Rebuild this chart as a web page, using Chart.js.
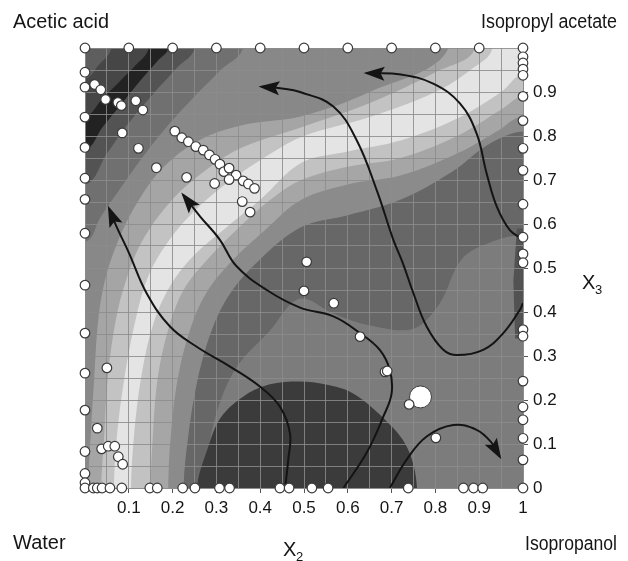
<!DOCTYPE html>
<html><head><meta charset="utf-8"><title>Contour</title>
<script src="https://cdn.jsdelivr.net/npm/chart.js@4.4.1/dist/chart.umd.min.js"></script>
<style>html,body{margin:0;padding:0;background:#fff;overflow:hidden}canvas{display:block}</style>
</head><body>
<canvas id="c" width="628" height="561"></canvas>
<script>
// ---------- text ----------
const xTickLabels = ['0.1','0.2','0.3','0.4','0.5','0.6','0.7','0.8','0.9','1'];
const yTickLabels = ['0','0.1','0.2','0.3','0.4','0.5','0.6','0.7','0.8','0.9'];
const cornerNames = ['Acetic acid','Isopropyl acetate','Water','Isopropanol'];
const xAxisName = ['X','2'];
const yAxisName = ['X','3'];

// ---------- experimental points ----------
const topRowX = [0,0.1,0.2,0.3,0.4,0.5,0.6,0.7,0.8,0.9,1];
const rightColY = [0.98,0.966,0.952,0.938,0.89,0.835,0.772,0.722,0.645,0.57,0.532,0.512,0.36,0.345,0.243,0.184,0.155,0.113,0.064];
const leftColY = [0.945,0.911,0.843,0.774,0.704,0.656,0.579,0.461,0.352,0.261,0.177,0.083,0.033,0.012];
const bottomRowX = [0,0.019,0.028,0.039,0.057,0.084,0.148,0.165,0.223,0.251,0.307,0.33,0.445,0.466,0.518,0.555,0.738,0.864,0.887,0.908,1];
const innerX = [0.022,0.036,0.047,0.075,0.083,0.116,0.132,0.085,0.122,0.163,0.232,0.296,0.359,0.377,
  0.205,0.221,0.236,0.253,0.27,0.284,0.297,0.308,0.317,0.329,0.345,0.329,0.361,0.373,0.387,
  0.05,0.028,0.038,0.053,0.068,0.076,0.086,
  0.506,0.5,0.568,0.628,0.685,0.69,0.74,0.801];
const innerY = [0.917,0.905,0.883,0.876,0.869,0.88,0.859,0.807,0.772,0.728,0.706,0.692,0.651,0.627,
  0.811,0.796,0.787,0.776,0.768,0.757,0.747,0.736,0.719,0.727,0.711,0.701,0.698,0.691,0.681,
  0.273,0.136,0.089,0.095,0.095,0.071,0.054,
  0.514,0.448,0.42,0.344,0.264,0.266,0.19,0.114];
const bigX = [0.766];
const bigY = [0.207];

// ---------- trajectories ----------
const path1 = [[0.055,0.635],[0.072,0.594],[0.1,0.535],[0.141,0.442],[0.194,0.367],[0.255,0.321],[0.331,0.276],[0.4,0.23],[0.445,0.185],[0.468,0.124],[0.464,0.064],[0.457,0]];
const path2 = [[0.224,0.666],[0.263,0.617],[0.308,0.564],[0.345,0.505],[0.415,0.45],[0.491,0.41],[0.567,0.39],[0.628,0.352],[0.673,0.314],[0.696,0.268],[0.7,0.215],[0.681,0.162],[0.643,0.08],[0.59,0]];
const path3 = [[0.403,0.912],[0.45,0.908],[0.491,0.9],[0.567,0.867],[0.62,0.791],[0.666,0.677],[0.704,0.564],[0.726,0.51],[0.75,0.442],[0.78,0.367],[0.818,0.314],[0.849,0.302],[0.909,0.314],[0.955,0.352],[0.993,0.405],[1,0.42]];
const path4 = [[0.643,0.943],[0.721,0.94],[0.795,0.919],[0.856,0.874],[0.894,0.806],[0.917,0.715],[0.94,0.64],[0.97,0.586],[1,0.565]];
const path5 = [[0.696,0],[0.734,0.064],[0.78,0.117],[0.841,0.143],[0.894,0.132],[0.929,0.102],[0.947,0.071]];

// ---------- contour band boundaries ----------
const edgeBA = [[0.262,0],[0.283,0.1],[0.31,0.2],[0.35,0.28],[0.42,0.355],[0.49,0.43],[0.57,0.395],[0.648,0.37],[0.75,0.362],[0.81,0.42],[0.86,0.52],[0.93,0.56],[1,0.575]];
const edgeCB = [[0.225,0],[0.236,0.12],[0.258,0.25],[0.29,0.36],[0.33,0.44],[0.4,0.52],[0.494,0.593],[0.6,0.62],[0.72,0.655],[0.84,0.72],[0.92,0.78],[1,0.81]];
const edgeDC = [[0.19,0],[0.196,0.12],[0.212,0.25],[0.24,0.36],[0.275,0.44],[0.33,0.51],[0.41,0.585],[0.494,0.655],[0.6,0.69],[0.72,0.71],[0.85,0.76],[0.94,0.81],[1,0.845]];
const edgeED = [[0.15,0],[0.155,0.12],[0.166,0.25],[0.19,0.36],[0.225,0.45],[0.28,0.52],[0.36,0.6],[0.43,0.66],[0.494,0.7],[0.6,0.73],[0.72,0.75],[0.85,0.8],[0.95,0.86],[1,0.89]];
const edgeFE = [[0.105,0],[0.112,0.12],[0.128,0.25],[0.155,0.37],[0.195,0.46],[0.25,0.53],[0.32,0.59],[0.4,0.655],[0.494,0.739],[0.6,0.765],[0.72,0.79],[0.85,0.84],[0.95,0.9],[1,0.94]];
const edgeEF = [[0.066,0],[0.073,0.12],[0.09,0.25],[0.115,0.38],[0.144,0.48],[0.19,0.56],[0.25,0.63],[0.32,0.69],[0.4,0.745],[0.494,0.798],[0.65,0.843],[0.8,0.9],[0.88,0.95],[0.93,1]];
const edgeDE = [[0.037,0],[0.044,0.12],[0.052,0.25],[0.07,0.38],[0.093,0.47],[0.13,0.56],[0.19,0.645],[0.26,0.71],[0.35,0.77],[0.494,0.82],[0.65,0.875],[0.8,0.945],[0.89,1]];
const edgeCD = [[0.007,0],[0.013,0.12],[0.021,0.25],[0.03,0.38],[0.045,0.47],[0.075,0.56],[0.12,0.65],[0.18,0.73],[0.26,0.79],[0.36,0.825],[0.494,0.845],[0.65,0.9],[0.83,1]];
const edgeBC = [[0,0.56],[0.035,0.615],[0.08,0.68],[0.13,0.75],[0.19,0.825],[0.25,0.89],[0.31,0.95],[0.36,1]];
const edgeGB = [[0,0.69],[0.05,0.76],[0.1,0.83],[0.155,0.895],[0.21,0.955],[0.25,1]];
const edgeK3 = [[0,0.77],[0.04,0.82],[0.085,0.875],[0.13,0.93],[0.165,0.97],[0.19,1]];
const edgeK2 = [[0,0.845],[0.04,0.885],[0.08,0.925],[0.115,0.96],[0.145,1]];
const edgeK1 = [[0,0.93],[0.03,0.96],[0.06,1]];
const domeEdge = [[0.256,0],[0.28,0.09],[0.31,0.16],[0.36,0.207],[0.42,0.235],[0.49,0.242],[0.55,0.235],[0.61,0.216],[0.68,0.16],[0.735,0.093],[0.758,0]];
const stripEdge = [[0.982,0.34],[1,0.34],[1,0.59],[0.986,0.59],[0.978,0.47]];

// ---------- helpers ----------
const OUT = 0.3;
function pushOut(p, side){
  const [x,y] = p;
  if (side==='bottom') return [x,-OUT];
  if (side==='left') return [-OUT,y];
  if (side==='top') return [x,1+OUT];
  return [1+OUT,y];
}
// region on the upper-left side of an edge, closed outside the plot
function upperLeft(edge, s, e){
  const pts = [pushOut(edge[0],s), ...edge, pushOut(edge[edge.length-1],e)];
  const order = ['right','top','left','bottom'];
  const corner = {right:[1+OUT,1+OUT], top:[-OUT,1+OUT], left:[-OUT,-OUT]};
  let i = order.indexOf(e);
  while (order[i] !== s) { pts.push(corner[order[i]]); i++; }
  return pts;
}
const toXY = arr => arr.map(([x,y]) => ({x,y}));

const layers = [
  {pts:[[-OUT,-OUT],[1+OUT,-OUT],[1+OUT,1+OUT],[-OUT,1+OUT]], color:'#7c7c7c', t:0},
  {pts:upperLeft(edgeBA,'bottom','right'), color:'#676767'},
  {pts:upperLeft(edgeCB,'bottom','right'), color:'#8b8b8b'},
  {pts:upperLeft(edgeDC,'bottom','right'), color:'#a6a6a6'},
  {pts:upperLeft(edgeED,'bottom','right'), color:'#c2c2c2'},
  {pts:upperLeft(edgeFE,'bottom','right'), color:'#e4e4e4'},
  {pts:upperLeft(edgeEF,'bottom','top'), color:'#c3c3c3'},
  {pts:upperLeft(edgeDE,'bottom','top'), color:'#a5a5a5'},
  {pts:upperLeft(edgeCD,'bottom','top'), color:'#888888'},
  {pts:upperLeft(edgeBC,'left','top'), color:'#707070'},
  {pts:upperLeft(edgeGB,'left','top'), color:'#535353'},
  {pts:upperLeft(edgeK3,'left','top'), color:'#222222'},
  {pts:upperLeft(edgeK2,'left','top'), color:'#464646'},
  {pts:upperLeft(edgeK1,'left','top'), color:'#5e5e5e'},
  {pts:[pushOut(domeEdge[0],'bottom'), ...domeEdge, pushOut(domeEdge[domeEdge.length-1],'bottom')], color:'#3b3b3b'},
  {pts:stripEdge, color:'#525252', t:0}
];

const datasets = [];
layers.forEach((L, i) => {
  datasets.push({
    data: toXY(L.pts), showLine:true, fill:'shape', backgroundColor:L.color,
    borderColor:'rgba(0,0,0,0)', borderWidth:0, pointRadius:0, pointHoverRadius:0, pointHitRadius:0,
    tension: L.t===undefined ? 0.35 : L.t, order: 300 - i, clip: 0
  });
});
[[path1,'start'],[path2,'start'],[path3,'start'],[path4,'start'],[path5,'end']].forEach(([p,a]) => {
  datasets.push({
    data: toXY(p), showLine:true, fill:false, borderColor:'#141414', borderWidth:2,
    pointRadius:0, pointHoverRadius:0, tension:0.4, order:10, arrowAt:a
  });
});
const smallPts = [
  ...topRowX.map(x => ({x, y:1})),
  ...rightColY.map(y => ({x:1, y})),
  ...leftColY.map(y => ({x:0, y})),
  ...bottomRowX.map(x => ({x, y:0})),
  ...innerX.map((x,i) => ({x, y:innerY[i]}))
];
datasets.push({data:smallPts, pointRadius:4.8, pointBackgroundColor:'#ffffff', pointBorderColor:'#3a3a3a', pointBorderWidth:1.2, order:0, clip:false});
datasets.push({data:bigX.map((x,i)=>({x, y:bigY[i]})), pointRadius:11, pointBackgroundColor:'#ffffff', pointBorderColor:'#3a3a3a', pointBorderWidth:1, order:0, clip:false});

const FONT = "'Liberation Sans',Arial,sans-serif";

const arrowPlugin = {
  id:'arrows',
  afterDatasetsDraw(chart){
    const ctx = chart.ctx;
    chart.data.datasets.forEach((ds, i) => {
      if (!ds.arrowAt) return;
      const pts = chart.getDatasetMeta(i).data;
      const n = pts.length;
      const tip = ds.arrowAt==='start' ? pts[0] : pts[n-1];
      const prev = ds.arrowAt==='start' ? pts[1] : pts[n-2];
      const a = Math.atan2(tip.y - prev.y, tip.x - prev.x);
      const L = 18, W = 7;
      ctx.save();
      ctx.translate(tip.x, tip.y); ctx.rotate(a);
      ctx.beginPath(); ctx.moveTo(3,0); ctx.lineTo(-L,-W); ctx.lineTo(-L+4,0); ctx.lineTo(-L,W); ctx.closePath();
      ctx.fillStyle = '#141414'; ctx.fill();
      ctx.restore();
    });
  }
};
function fitText(ctx, txt, x, y, w, align){
  const m = ctx.measureText(txt).width;
  const k = Math.min(1, w / m);
  ctx.save();
  ctx.translate(x, y); ctx.scale(k, 1);
  ctx.textAlign = align; ctx.fillText(txt, 0, 0);
  ctx.restore();
}
const textPlugin = {
  id:'names',
  afterDraw(chart){
    const ctx = chart.ctx;
    ctx.save();
    ctx.fillStyle = '#151515';
    ctx.font = '20px ' + FONT;
    ctx.textBaseline = 'alphabetic';
    fitText(ctx, cornerNames[0], 13, 28, 96, 'left');
    fitText(ctx, cornerNames[1], 617, 28, 136, 'right');
    fitText(ctx, cornerNames[2], 13, 549, 56, 'left');
    fitText(ctx, cornerNames[3], 617, 550, 92, 'right');
    ctx.textAlign = 'left';
    ctx.font = '20px ' + FONT;
    ctx.fillText(xAxisName[0], 283, 556);
    ctx.fillText(yAxisName[0], 582, 289);
    ctx.font = '13px ' + FONT;
    ctx.fillText(xAxisName[1], 296, 561);
    ctx.fillText(yAxisName[1], 595, 294);
    ctx.restore();
  }
};

const gridColor = 'rgba(140,140,140,0.85)';
const tickMark = c => (Math.round(c.tick.value*20) % 2) ? 'rgba(0,0,0,0)' : '#555';

new Chart(document.getElementById('c'), {
  type:'scatter',
  data:{datasets},
  options:{
    responsive:false, animation:false, events:[],
    layout:{padding:{left:85, top:48, right:0, bottom:0}},
    elements:{line:{capBezierPoints:false}},
    plugins:{legend:{display:false}, tooltip:{enabled:false}, filler:{propagate:false, drawTime:'beforeDraw'}},
    scales:{
      x:{type:'linear', min:0, max:1, position:'bottom',
        afterFit: s => { s.height = 73; },
        grid:{color:gridColor, lineWidth:1, tickLength:5, tickColor:tickMark},
        border:{display:true, color:gridColor},
        ticks:{stepSize:0.05, autoSkip:false, maxRotation:0, minRotation:0, padding:5, color:'#151515',
          font:{family:FONT, size:17},
          callback: v => { const k = Math.round(v*20); if (k % 2) return ''; const i = k/2; return i>=1 ? xTickLabels[i-1] : ''; }}
      },
      y:{type:'linear', min:0, max:1, position:'right',
        afterFit: s => { s.width = 105; },
        grid:{color:gridColor, lineWidth:1, tickLength:5, tickColor:tickMark},
        border:{display:true, color:gridColor},
        ticks:{stepSize:0.05, autoSkip:false, padding:5, color:'#151515',
          font:{family:FONT, size:17},
          callback: v => { const k = Math.round(v*20); if (k % 2) return ''; const i = k/2; return i<=9 ? yTickLabels[i] : ''; }}
      }
    }
  },
  plugins:[arrowPlugin, textPlugin]
});
</script>
</body></html>
